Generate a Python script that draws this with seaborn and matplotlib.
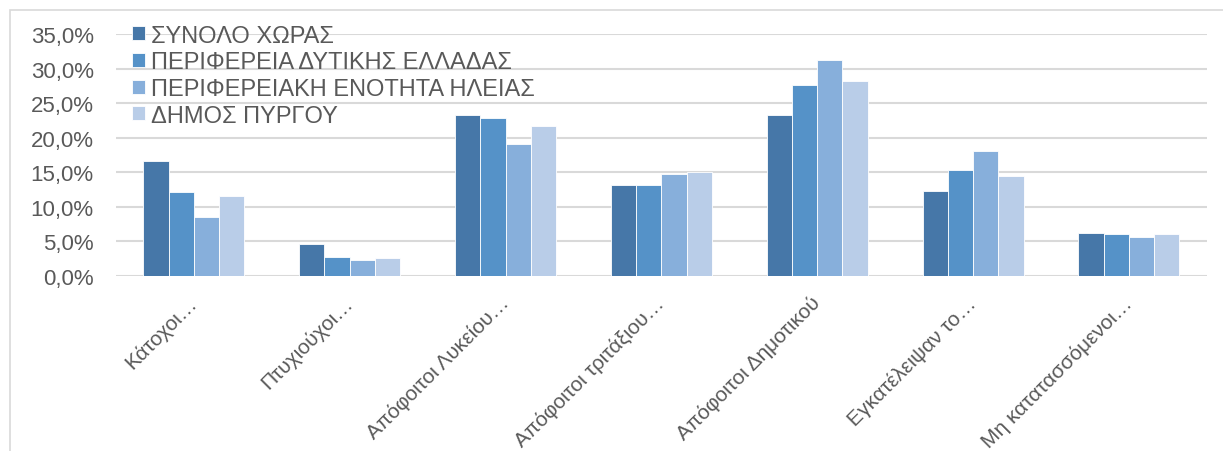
import pandas as pd
import seaborn as sns
import matplotlib.pyplot as plt
from matplotlib.patches import Rectangle
from matplotlib.ticker import FuncFormatter

# Δεδομένα (ποσοστά %)
categories = ['Κάτοχοι…', 'Πτυχιούχοι…', 'Απόφοιτοι Λυκείου…', 'Απόφοιτοι τριτάξιου…',
              'Απόφοιτοι Δημοτικού', 'Εγκατέλειψαν το…', 'Μη κατατασσόμενοι…']
series = ['ΣΥΝΟΛΟ ΧΩΡΑΣ', 'ΠΕΡΙΦΕΡΕΙΑ ΔΥΤΙΚΗΣ ΕΛΛΑΔΑΣ',
          'ΠΕΡΙΦΕΡΕΙΑΚΗ ΕΝΟΤΗΤΑ ΗΛΕΙΑΣ', 'ΔΗΜΟΣ ΠΥΡΓΟΥ']
synolo = [16.6, 4.6, 23.3, 13.1, 23.3, 12.3, 6.2]
dytikis = [12.1, 2.7, 22.8, 13.2, 27.6, 15.3, 6.1]
ileias = [8.5, 2.3, 19.1, 14.7, 31.2, 18.1, 5.6]
pyrgou = [11.6, 2.6, 21.7, 15.0, 28.2, 14.5, 6.0]
yticks = [0, 5, 10, 15, 20, 25, 30, 35]

colors = ['#4677A8', '#5592C8', '#87AFDB', '#B9CDE8']

rows = []
for name, vals in zip(series, [synolo, dytikis, ileias, pyrgou]):
    for c, v in zip(categories, vals):
        rows.append({'cat': c, 'series': name, 'val': v})
df = pd.DataFrame(rows)

sns.set_style("white")
plt.rcParams['font.family'] = ['Liberation Sans', 'DejaVu Sans']

fig = plt.figure(figsize=(12.23, 4.52), dpi=100)
ax = fig.add_axes([0.0948, 0.3872, 0.892, 0.5354])

sns.barplot(data=df, x='cat', y='val', hue='series', palette=colors, saturation=1,
            width=0.648, edgecolor='white', linewidth=0.6, ax=ax, zorder=3)

ax.set_ylim(0, 35)
ax.set_yticks(yticks)
ax.yaxis.set_major_formatter(FuncFormatter(lambda v, p: f'{v:.1f}%'.replace('.', ',')))
ax.grid(axis='y', color='#D9D9D9', linewidth=1.5, zorder=0)
ax.set_axisbelow(True)
for s in ax.spines.values():
    s.set_visible(False)
ax.set_xlim(-0.5, 6.5)
ax.set_xlabel('')
ax.set_ylabel('')
ax.tick_params(axis='y', labelsize=16, labelcolor='#595959', length=0, pad=16)
ax.tick_params(axis='x', labelsize=15, labelcolor='#595959', length=0, pad=17)
for lab in ax.get_xticklabels():
    lab.set_rotation(45)
    lab.set_ha('right')
    lab.set_va('center')
    lab.set_rotation_mode('anchor')

leg = ax.legend(loc='upper left', bbox_to_anchor=(0.0065, 1.078), frameon=False,
                fontsize=17, handlelength=0.55, handleheight=0.55, handletextpad=0.25,
                labelspacing=0.2, borderaxespad=0)
for t in leg.get_texts():
    t.set_color('#595959')

# πλαίσιο γραφήματος
fig.patches.append(Rectangle((0.0082, -0.1), 1.2, 1.0757, transform=fig.transFigure,
                             fill=False, edgecolor='#D9D9D9', linewidth=1.2))

fig.savefig('out.png', dpi=100)
